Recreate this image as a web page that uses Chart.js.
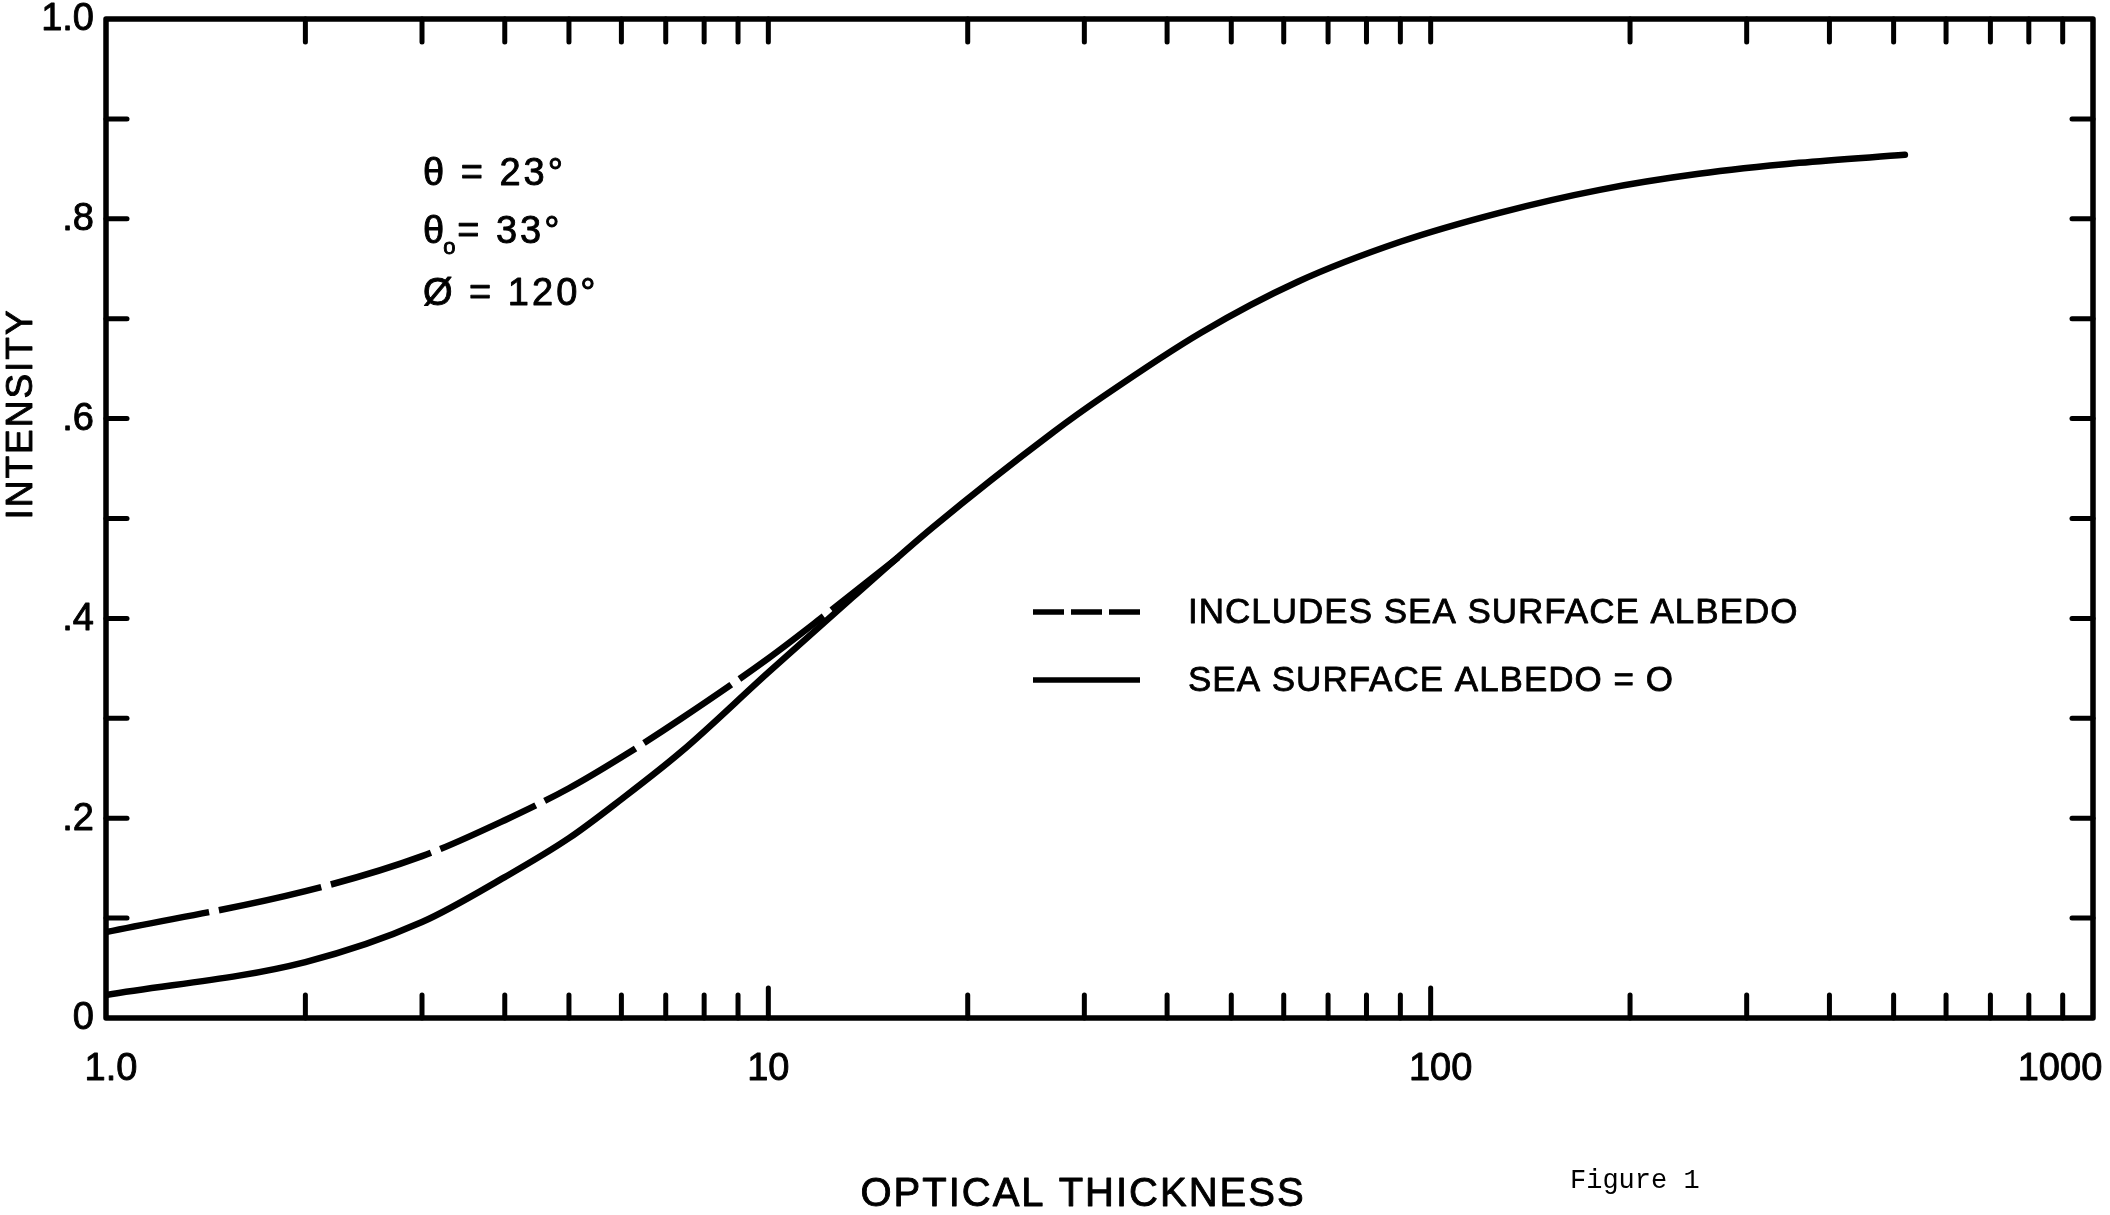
<!DOCTYPE html>
<html>
<head>
<meta charset="utf-8">
<script src="https://cdn.jsdelivr.net/npm/chart.js@4.4.1/dist/chart.umd.min.js"></script>
<style>
  html, body { margin: 0; padding: 0; background: #fff; }
  canvas { display: block; }
</style>
</head>
<body>
<canvas id="fig" width="2110" height="1215"></canvas>
<script>
// --- data ---
const thicknessSolid = [1, 2, 3, 4, 5, 6, 7.4, 10, 13.4, 17.7, 27, 32, 45, 63, 90, 127, 180, 254, 360, 520];
const intensitySolid = [0.023, 0.056, 0.096, 0.141, 0.180, 0.219, 0.267, 0.346, 0.421, 0.491, 0.587, 0.622, 0.686, 0.737, 0.777, 0.806, 0.829, 0.845, 0.856, 0.864];
const thicknessDashed = [1, 2, 3, 4, 5, 6, 7.4, 10, 12, 15.7];
const intensityDashed = [0.086, 0.127, 0.162, 0.198, 0.230, 0.261, 0.300, 0.360, 0.400, 0.461];
const seriesLabels = ['INCLUDES SEA SURFACE ALBEDO', 'SEA SURFACE ALBEDO = O'];
const xTickValues = [1, 10, 100, 1000];
const xTickLabels = ['1.0', '10', '100', '1000'];
const yTickValues = [0, 0.2, 0.4, 0.6, 0.8, 1.0];
const yTickLabels = ['0', '.2', '.4', '.6', '.8', '1.0'];

const FONT = '"Liberation Sans", Arial, sans-serif';

function pts(xs, ys) {
    return xs.map((v, i) => ({ x: v, y: ys[i] }));
}

function seg(ctx, x1, y1, x2, y2) {
    ctx.beginPath();
    ctx.moveTo(x1, y1);
    ctx.lineTo(x2, y2);
    ctx.stroke();
}

// lettering is a bit heavier than a regular font, so fill + thin stroke
function letter(ctx, text, x, y) {
    ctx.fillText(text, x, y);
    ctx.strokeText(text, x, y);
}

// frame, inward ticks, labels, notes and legend
const figurePlugin = {
    id: 'figure',
    afterDatasetsDraw(chart) {
        const { ctx, chartArea: a, scales: { x, y } } = chart;
        ctx.save();
        ctx.strokeStyle = '#000';
        ctx.fillStyle = '#000';

        // ticks
        ctx.lineCap = 'round';
        ctx.lineWidth = 5;
        for (let d = 1; d < 1000; d *= 10) {
            for (let m = 1; m < 10; m++) {
                const v = d * m;
                if (v === 1) continue;
                const px = x.getPixelForValue(v);
                seg(ctx, px, a.bottom, px, a.bottom - (m === 1 ? 30 : 23));
                seg(ctx, px, a.top, px, a.top + 23);
            }
        }
        for (let i = 1; i < 10; i++) {
            const py = y.getPixelForValue(i / 10);
            seg(ctx, a.left, py, a.left + 21, py);
            seg(ctx, a.right, py, a.right - 21, py);
        }

        // frame
        ctx.lineCap = 'butt';
        ctx.lineJoin = 'round';
        ctx.lineWidth = 5.5;
        ctx.strokeRect(a.left, a.top, a.right - a.left, a.bottom - a.top);

        ctx.lineWidth = 0.9;
        ctx.lineJoin = 'round';

        // tick labels
        ctx.font = '38px ' + FONT;
        ctx.textBaseline = 'middle';
        ctx.textAlign = 'right';
        yTickValues.forEach((v, i) => {
            letter(ctx, yTickLabels[i], a.left - 12, y.getPixelForValue(v) + 1);
        });
        ctx.textAlign = 'center';
        const xShift = [5, 0, 10, -33];
        xTickValues.forEach((v, i) => {
            letter(ctx, xTickLabels[i], x.getPixelForValue(v) + xShift[i], a.bottom + 52);
        });

        // axis titles
        ctx.font = '40px ' + FONT;
        ctx.letterSpacing = '2px';
        letter(ctx, 'OPTICAL THICKNESS', 1083, 1195);
        ctx.save();
        ctx.translate(22, 414);
        ctx.rotate(-Math.PI / 2);
        ctx.font = '37px ' + FONT;
        letter(ctx, 'INTENSITY', 0, 0);
        ctx.restore();

        // angle notes
        ctx.textAlign = 'left';
        ctx.textBaseline = 'alphabetic';
        ctx.font = '38px ' + FONT;
        ctx.letterSpacing = '3px';
        letter(ctx, 'θ = 23°', 423, 185);
        letter(ctx, 'θ', 423, 243);
        const w = ctx.measureText('θ').width;
        ctx.font = '22px ' + FONT;
        letter(ctx, 'o', 423 + w - 4, 254);
        ctx.font = '38px ' + FONT;
        letter(ctx, '= 33°', 423 + w + 10, 243);
        letter(ctx, 'Ø = 120°', 423, 305);

        // legend
        const rows = [612, 680];
        const dashes = [[31, 7], []];
        ctx.lineWidth = 5.5;
        rows.forEach((ry, i) => {
            ctx.setLineDash(dashes[i]);
            seg(ctx, 1033, ry, 1140, ry);
            ctx.setLineDash([]);
        });
        ctx.lineWidth = 0.8;
        ctx.font = '35px ' + FONT;
        ctx.letterSpacing = '1px';
        ctx.textBaseline = 'middle';
        rows.forEach((ry, i) => letter(ctx, seriesLabels[i], 1188, ry + 1));
        ctx.letterSpacing = '0px';

        // caption (typewritten)
        ctx.font = '27px "Liberation Mono", "DejaVu Sans Mono", monospace';
        ctx.textBaseline = 'alphabetic';
        ctx.fillText('Figure 1', 1570, 1188);

        ctx.restore();
    }
};

new Chart(document.getElementById('fig'), {
    type: 'line',
    data: {
        datasets: [
            {
                label: seriesLabels[0],
                data: pts(thicknessDashed, intensityDashed),
                borderColor: '#000',
                borderWidth: 6.5,
                borderDash: [105, 10],
                borderCapStyle: 'butt',
                pointRadius: 0,
                cubicInterpolationMode: 'monotone',
                fill: false
            },
            {
                label: seriesLabels[1],
                data: pts(thicknessSolid, intensitySolid),
                borderColor: '#000',
                borderWidth: 6.5,
                borderCapStyle: 'round',
                pointRadius: 0,
                cubicInterpolationMode: 'monotone',
                fill: false
            }
        ]
    },
    options: {
        responsive: false,
        devicePixelRatio: 1,
        animation: false,
        events: [],
        layout: { padding: { left: 106, right: 17, top: 19, bottom: 197 } },
        scales: {
            x: { type: 'logarithmic', min: 1, max: 1000, display: false },
            y: { type: 'linear', min: 0, max: 1, display: false }
        },
        plugins: {
            legend: { display: false },
            tooltip: { enabled: false }
        }
    },
    plugins: [figurePlugin]
});
</script>
</body>
</html>
